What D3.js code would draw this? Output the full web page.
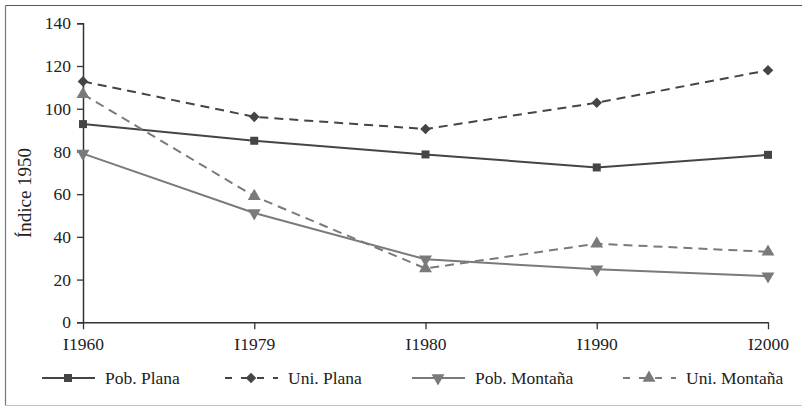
<!DOCTYPE html>
<html><head><meta charset="utf-8">
<script src="https://cdn.jsdelivr.net/npm/d3@7"></script>
<style>
html,body{margin:0;padding:0;background:#fff;}
svg{display:block;}
svg text{font-family:"Liberation Serif","Times New Roman","DejaVu Serif",serif !important;}
</style></head>
<body>
<svg id="chart" width="802" height="407"></svg>
<script>
const categories = ["I1960", "I1979", "I1980", "I1990", "I2000"];
const pobPlana   = [92.8, 85.0, 78.6, 72.5, 78.4];
const uniPlana   = [112.8, 96.2, 90.5, 102.8, 118.0];
const pobMontana = [79.0, 51.2, 29.5, 24.8, 21.6];
const uniMontana = [106.8, 59.0, 25.2, 36.8, 33.0];
const yTicks = [0, 20, 40, 60, 80, 100, 120, 140];
const seriesNames = ["Pob. Plana", "Uni. Plana", "Pob. Montaña", "Uni. Montaña"];
const yLabel = "Índice 1950";

const series = [
  {name: seriesNames[0], values: pobPlana,   color: "#454545", dash: null,  symbol: d3.symbolSquare,   size: 64, rot: 0},
  {name: seriesNames[1], values: uniPlana,   color: "#454545", dash: "9,6", symbol: d3.symbolSquare,   size: 56, rot: 45},
  {name: seriesNames[2], values: pobMontana, color: "#7a7a7a", dash: null,  symbol: d3.symbolTriangle, size: 72, rot: 180},
  {name: seriesNames[3], values: uniMontana, color: "#7a7a7a", dash: "9,6", symbol: d3.symbolTriangle, size: 72, rot: 0}
];

const svg = d3.select("#chart");

// outer frame
svg.append("line").attr("x1",5.5).attr("x2",802).attr("y1",5.5).attr("y2",5.5).attr("stroke","#555").attr("stroke-width",1.2);
svg.append("line").attr("x1",5.5).attr("x2",5.5).attr("y1",5.5).attr("y2",405.5).attr("stroke","#777").attr("stroke-width",1.2);
svg.append("line").attr("x1",5.5).attr("x2",802).attr("y1",405.5).attr("y2",405.5).attr("stroke","#c4c4c4").attr("stroke-width",1.2);

const x = d3.scalePoint().domain(categories).range([83, 768]).padding(0);
const y = d3.scaleLinear().domain([0, 140]).range([322.3, 23.3]);

// y axis
const yAxis = svg.append("g").attr("transform","translate(83,0)")
  .call(d3.axisLeft(y).tickValues(yTicks).tickSize(6).tickPadding(6));
yAxis.attr("font-family", null).attr("font-size", null);
yAxis.select(".domain").attr("stroke","#333").attr("stroke-width",1.5);
yAxis.selectAll(".tick line").attr("stroke","#333").attr("stroke-width",1.3);
yAxis.selectAll("text").attr("font-size",17.5).attr("fill","#222");

// x axis
const xAxis = svg.append("g").attr("transform","translate(0,322.3)")
  .call(d3.axisBottom(x).tickSize(7).tickSizeOuter(0).tickPadding(8));
xAxis.attr("font-family", null).attr("font-size", null);
xAxis.select(".domain").attr("stroke","#333").attr("stroke-width",1.5);
xAxis.selectAll(".tick line").attr("stroke","#333").attr("stroke-width",1.3);
xAxis.selectAll("text").attr("font-size",17.5).attr("fill","#222");

// y label
svg.append("text").attr("transform","translate(31,193) rotate(-90)")
  .attr("text-anchor","middle").attr("font-size",19).attr("fill","#222").text(yLabel);

// lines
const line = d3.line().x((d,i)=>x(categories[i])).y(d=>y(d));
series.forEach(s => {
  svg.append("path").datum(s.values).attr("d", line)
    .attr("fill","none").attr("stroke", s.color).attr("stroke-width", 2)
    .attr("stroke-dasharray", s.dash);
});
series.forEach(s => {
  const sym = d3.symbol().type(s.symbol).size(s.size);
  svg.append("g").selectAll("path").data(s.values).join("path")
    .attr("d", sym)
    .attr("transform",(d,i)=>`translate(${x(categories[i])},${y(d)}) rotate(${s.rot})`)
    .attr("fill", s.color);
});

// legend
const legendX = [42, 225, 412, 623];
const legendY = 378;
series.forEach((s,i) => {
  const g = svg.append("g").attr("transform",`translate(${legendX[i]},${legendY})`);
  g.append("line").attr("x1",0).attr("x2",53).attr("y1",0).attr("y2",0)
    .attr("stroke", s.color).attr("stroke-width",2).attr("stroke-dasharray", s.dash ? "7,9" : null);
  g.append("path").attr("d", d3.symbol().type(s.symbol).size(s.size)())
    .attr("transform",`translate(26,0) rotate(${s.rot})`).attr("fill", s.color);
  g.append("text").attr("x",63).attr("y",0).attr("dy","0.33em")
    .attr("font-size",17.5).attr("fill","#222").text(s.name);
});
</script>
</body></html>
